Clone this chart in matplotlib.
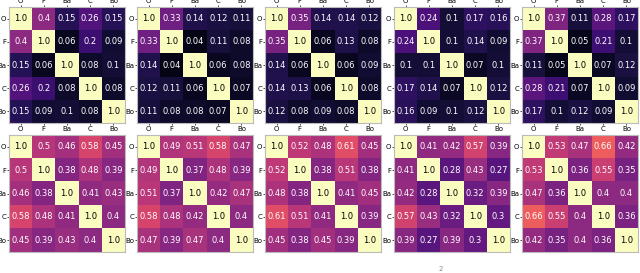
import numpy as np
import matplotlib.pyplot as plt

labels = ["O", "F", "Ba", "C", "Bo"]

# correlation matrices, top row of panels
top_mats = [
    [[1.0, 0.4, 0.15, 0.26, 0.15],
     [0.4, 1.0, 0.06, 0.2, 0.09],
     [0.15, 0.06, 1.0, 0.08, 0.1],
     [0.26, 0.2, 0.08, 1.0, 0.08],
     [0.15, 0.09, 0.1, 0.08, 1.0]],
    [[1.0, 0.33, 0.14, 0.12, 0.11],
     [0.33, 1.0, 0.04, 0.11, 0.08],
     [0.14, 0.04, 1.0, 0.06, 0.08],
     [0.12, 0.11, 0.06, 1.0, 0.07],
     [0.11, 0.08, 0.08, 0.07, 1.0]],
    [[1.0, 0.35, 0.14, 0.14, 0.12],
     [0.35, 1.0, 0.06, 0.13, 0.08],
     [0.14, 0.06, 1.0, 0.06, 0.09],
     [0.14, 0.13, 0.06, 1.0, 0.08],
     [0.12, 0.08, 0.09, 0.08, 1.0]],
    [[1.0, 0.24, 0.1, 0.17, 0.16],
     [0.24, 1.0, 0.1, 0.14, 0.09],
     [0.1, 0.1, 1.0, 0.07, 0.1],
     [0.17, 0.14, 0.07, 1.0, 0.12],
     [0.16, 0.09, 0.1, 0.12, 1.0]],
    [[1.0, 0.37, 0.11, 0.28, 0.17],
     [0.37, 1.0, 0.05, 0.21, 0.1],
     [0.11, 0.05, 1.0, 0.07, 0.12],
     [0.28, 0.21, 0.07, 1.0, 0.09],
     [0.17, 0.1, 0.12, 0.09, 1.0]],
]

# bottom row of panels
bot_mats = [
    [[1.0, 0.5, 0.46, 0.58, 0.45],
     [0.5, 1.0, 0.38, 0.48, 0.39],
     [0.46, 0.38, 1.0, 0.41, 0.43],
     [0.58, 0.48, 0.41, 1.0, 0.4],
     [0.45, 0.39, 0.43, 0.4, 1.0]],
    [[1.0, 0.49, 0.51, 0.58, 0.47],
     [0.49, 1.0, 0.37, 0.48, 0.39],
     [0.51, 0.37, 1.0, 0.42, 0.47],
     [0.58, 0.48, 0.42, 1.0, 0.4],
     [0.47, 0.39, 0.47, 0.4, 1.0]],
    [[1.0, 0.52, 0.48, 0.61, 0.45],
     [0.52, 1.0, 0.38, 0.51, 0.38],
     [0.48, 0.38, 1.0, 0.41, 0.45],
     [0.61, 0.51, 0.41, 1.0, 0.39],
     [0.45, 0.38, 0.45, 0.39, 1.0]],
    [[1.0, 0.41, 0.42, 0.57, 0.39],
     [0.41, 1.0, 0.28, 0.43, 0.27],
     [0.42, 0.28, 1.0, 0.32, 0.39],
     [0.57, 0.43, 0.32, 1.0, 0.3],
     [0.39, 0.27, 0.39, 0.3, 1.0]],
    [[1.0, 0.53, 0.47, 0.66, 0.42],
     [0.53, 1.0, 0.36, 0.55, 0.35],
     [0.47, 0.36, 1.0, 0.4, 0.4],
     [0.66, 0.55, 0.4, 1.0, 0.36],
     [0.42, 0.35, 0.4, 0.36, 1.0]],
]

fig = plt.figure(figsize=(6.4, 2.73), dpi=100)

lefts = [9, 137, 265, 394, 522]


def draw(ax, mat, top_lab, bottom_lab):
    m = np.array(mat)
    ax.imshow(m, cmap="magma", vmin=0, vmax=1, aspect="auto")
    for i in range(5):
        for j in range(5):
            v = m[i, j]
            ax.text(j, i, str(v), ha="center", va="center", fontsize=6,
                    color="black" if v > 0.8 else "white")
    ax.set_xticks(range(5))
    ax.set_yticks(range(5))
    ax.set_xticklabels(labels, fontsize=5)
    ax.set_yticklabels(labels, fontsize=5)
    ax.tick_params(length=1.5, width=0.5, pad=0.5, top=top_lab, labeltop=top_lab,
                   bottom=bottom_lab, labelbottom=bottom_lab)
    for s in ax.spines.values():
        s.set_color("#bbbbbb")
        s.set_linewidth(0.8)


for k in range(5):
    ax = fig.add_axes([lefts[k] / 640, 1 - 123 / 273, 116 / 640, 116 / 273])
    draw(ax, top_mats[k], True, True)
    ax = fig.add_axes([lefts[k] / 640, 1 - 252 / 273, 116 / 640, 117 / 273])
    draw(ax, bot_mats[k], False, False)

fig.text(441 / 640, 0.005, "2", fontsize=5, color="#888888", ha="center", va="bottom")

fig.savefig("out.png", dpi=100)
